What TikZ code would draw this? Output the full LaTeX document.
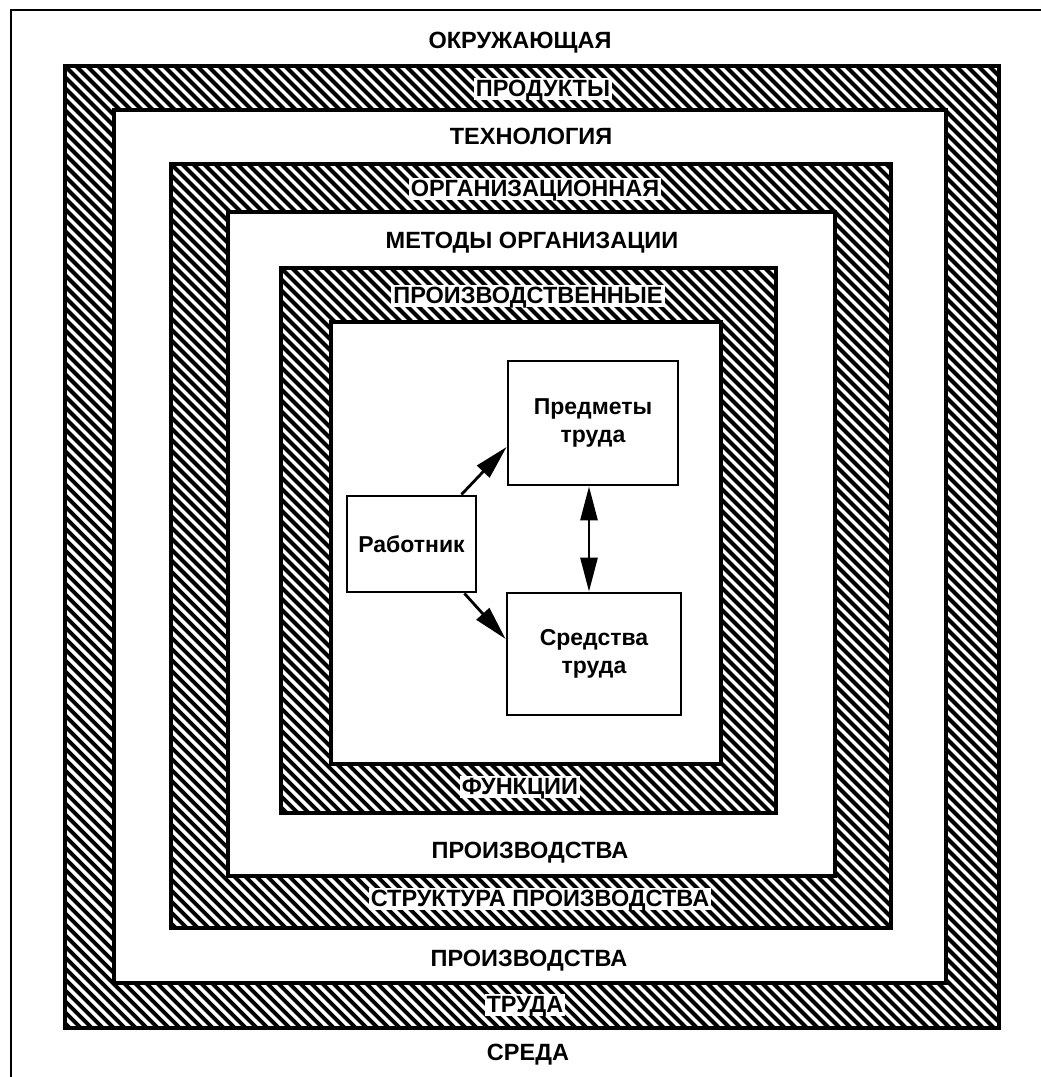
\documentclass[tikz,border=0pt]{standalone}
\usepackage{fontspec}
\setmainfont{Liberation Sans}
\usetikzlibrary{arrows.meta}

\tikzset{
  frameline/.style={line width=2.6pt},
  ringedge/.style={line width=3.6pt},
  hatchline/.style={line width=3.9pt},
  lbl/.style={font=\bfseries\fontsize{23.5}{28}\selectfont, inner xsep=2pt,
              inner ysep=1.5pt, text height=17pt, text depth=2pt, anchor=base},
  bandlbl/.style={lbl, fill=white},
  unit/.style={draw, line width=2.8pt, fill=white, align=center,
               font=\bfseries\fontsize{23}{28}\selectfont},
  tip/.tip={Triangle[length=34pt,width=17pt]},
  arr/.style={line width=2.8pt, -tip},
  dblarr/.style={line width=2.8pt, tip-tip},
}

% hatched ring: outer corners (#1,#2)-(#3,#4), inner corners (#5,#6)-(#7,#8)
\newcommand\hatchband[8]{%
  \begin{scope}
    \clip (#1,#2) rectangle (#3,#4);
    \foreach \k in {-1100,-1089,...,1100}
      \draw[hatchline] (#1+\k,#2) -- ++(1000,1000);
  \end{scope}
  \draw[ringedge, fill=white] (#5,#6) rectangle (#7,#8);
  \draw[ringedge] (#1,#2) rectangle (#3,#4);
}

\begin{document}
\begin{tikzpicture}[x=1pt,y=-1pt]
  \useasboundingbox (0,0) rectangle (1041,1077);
  \fill[white] (0,0) rectangle (1041,1077);

  % outer frame (left and top edges)
  \draw[frameline] (11,1077) -- (11,10) -- (1041,10);

  % three hatched rings
  \hatchband{65}{66}{999}{1028}{114}{110}{946}{983}
  \hatchband{171}{164}{891}{928}{228}{212}{835}{876}
  \hatchband{281}{268}{776}{813}{331}{322}{721}{764}

  % labels on the white strips
  \node[lbl] (env1)  at (520,48.5)   {ОКРУЖАЮЩАЯ};
  \node[lbl] (tech)  at (531,144.5)  {ТЕХНОЛОГИЯ};
  \node[lbl] (meth)  at (532,248.5)  {МЕТОДЫ ОРГАНИЗАЦИИ};
  \node[lbl] (prod1) at (530,858.5)  {ПРОИЗВОДСТВА};
  \node[lbl] (prod2) at (529,966.5)  {ПРОИЗВОДСТВА};
  \node[lbl] (env2)  at (528,1060.5) {СРЕДА};

  % labels on the hatched rings
  \node[bandlbl] (goods) at (543,96.5)  {ПРОДУКТЫ};
  \node[bandlbl] (orgz)  at (535,196.5) {ОРГАНИЗАЦИОННАЯ};
  \node[bandlbl] (manf)  at (528,303.5) {ПРОИЗВОДСТВЕННЫЕ};
  \node[bandlbl] (func)  at (520,794.5) {ФУНКЦИИ};
  \node[bandlbl] (strc)  at (540,906.5) {СТРУКТУРА ПРОИЗВОДСТВА};
  \node[bandlbl] (labr)  at (525,1012.5) {ТРУДА};

  % elements of the labour process
  \node[unit, minimum width=129pt, minimum height=96pt]  (rab)  at (411.5,544) {Работник};
  \node[unit, minimum width=170pt, minimum height=124pt] (pred) at (593,423)   {Предметы\\труда};
  \node[unit, minimum width=174pt, minimum height=122pt] (sred) at (594,654)   {Средства\\труда};

  \draw[arr] ([xshift=-16pt]rab.north east) -- ([yshift=-24pt]pred.west);
  \draw[arr] ([xshift=-13pt]rab.south east) -- ([yshift=15pt]sred.west);
  \draw[dblarr] ([xshift=-4pt]pred.south) -- ([xshift=-4pt]pred.south |- sred.north);
\end{tikzpicture}
\end{document}
